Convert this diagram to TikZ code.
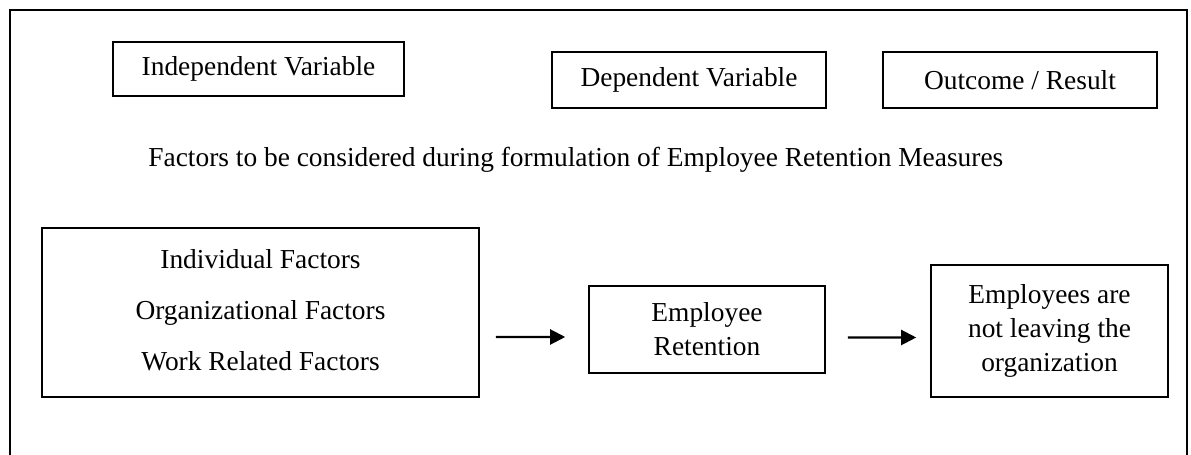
\documentclass[tikz,border=0pt]{standalone}
\usepackage{fontspec}
\setmainfont{Liberation Serif}
\usetikzlibrary{arrows.meta}
\begin{document}
\begin{tikzpicture}[box/.style={draw, line width=0.9pt, align=center, inner sep=0pt},
  font=\fontsize{15.6}{19.3}\selectfont]
\useasboundingbox (0,0) rectangle (23.82,9.1);
\draw[line width=1.2pt] (0.2,0) -- (0.2,8.9) -- (23.74,8.9) -- (23.74,0);

\node[box, minimum width=5.82cm, minimum height=1.08cm] (iv) at (5.17,7.72) {Independent Variable};
\node[box, minimum width=5.48cm, minimum height=1.12cm] (dv) at (13.78,7.5) {Dependent Variable};
\node[box, minimum width=5.48cm, minimum height=1.12cm] (res) at (20.4,7.5) {Outcome / Result};
\node[anchor=west, inner xsep=0pt] (title) at (2.96,5.9) {Factors to be considered during formulation of Employee Retention Measures};

\node[box, minimum width=8.74cm, minimum height=3.38cm] (fac) at (5.21,2.85) {\raisebox{0.12cm}{\begin{tabular}{@{}c@{}}Individual Factors\\[0.34cm] Organizational Factors\\[0.34cm] Work Related Factors\end{tabular}}};
\node[box, minimum width=4.72cm, minimum height=1.74cm] (ret) at (14.14,2.51) {Employee\\Retention};
\node[box, minimum width=4.74cm, minimum height=2.64cm] (out) at (20.99,2.48) {Employees are\\not leaving the\\organization};

\path[draw,line width=1.2pt,-{Triangle[length=0.3cm,width=0.3cm]},shorten <=0.32cm,shorten >=0.46cm] ([yshift=-0.49cm]fac.east) -- ([yshift=-0.15cm]ret.west);
\path[draw,line width=1.2pt,-{Triangle[length=0.3cm,width=0.3cm]},shorten <=0.44cm,shorten >=0.28cm] ([yshift=-0.16cm]ret.east) -- ([yshift=-0.13cm]out.west);
\end{tikzpicture}
\end{document}
